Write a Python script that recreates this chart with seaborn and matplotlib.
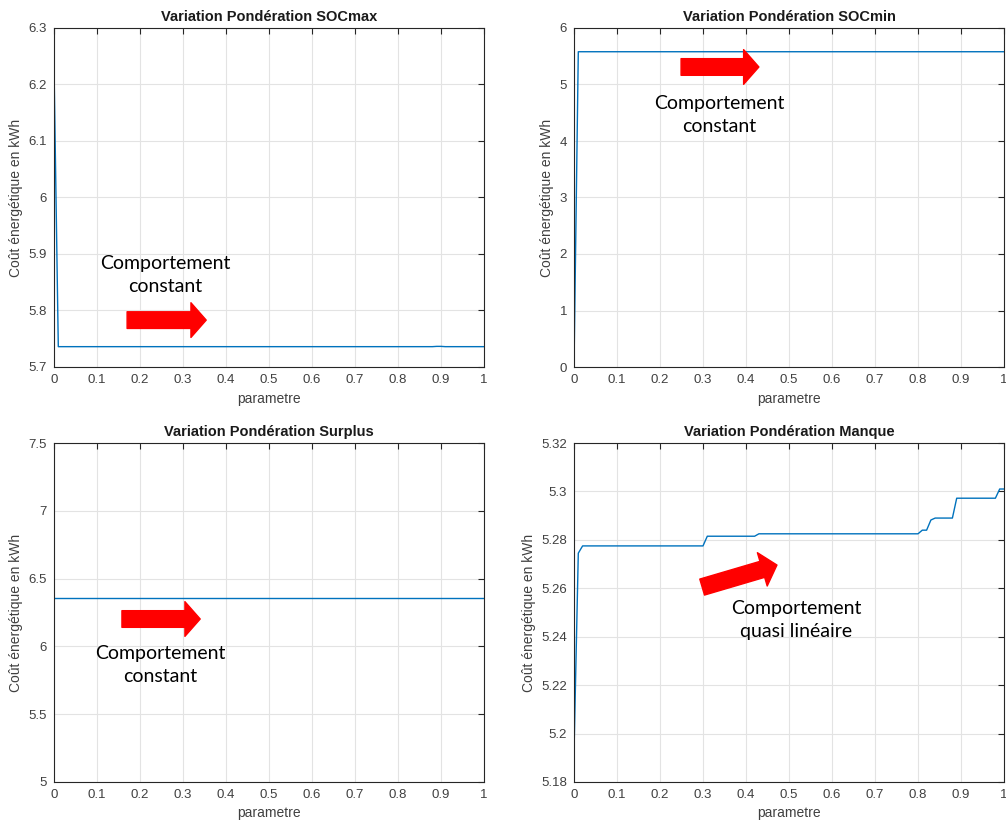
# =========================================
# VARIATION PONDERATION - 4 PANELS
# =========================================

import numpy as np
import matplotlib
matplotlib.use("Agg")
import matplotlib.pyplot as plt
from matplotlib.ticker import FuncFormatter
import seaborn as sns


# =========================================
# DATA
# =========================================

socmax_x = [0, 0.01, 0.88, 0.89, 0.90, 0.91, 1.0]
socmax_y = [6.233, 5.736, 5.736, 5.7365, 5.7365, 5.736, 5.736]

socmin_x = [0, 0.01, 1.0]
socmin_y = [0.0, 5.58, 5.58]

surplus_x = [0, 1.0]
surplus_y = [6.355, 6.355]

manque_x = [0, 0.01, 0.02, 0.30, 0.31, 0.42, 0.43, 0.80, 0.81, 0.82,
            0.83, 0.84, 0.88, 0.89, 0.98, 0.99, 1.0]
manque_y = [5.192, 5.2745, 5.2775, 5.2775, 5.2815, 5.2815, 5.2825, 5.2825,
            5.2840, 5.2840, 5.2882, 5.2890, 5.2890, 5.2972, 5.2972, 5.3010, 5.3010]

titles = [
    "Variation Pondération SOCmax",
    "Variation Pondération SOCmin",
    "Variation Pondération Surplus",
    "Variation Pondération Manque",
]

y_limits = [(5.7, 6.3), (0, 6), (5, 7.5), (5.18, 5.32)]
y_ticks = [
    [5.7, 5.8, 5.9, 6.0, 6.1, 6.2, 6.3],
    [0, 1, 2, 3, 4, 5, 6],
    [5, 5.5, 6, 6.5, 7, 7.5],
    [5.18, 5.2, 5.22, 5.24, 5.26, 5.28, 5.3, 5.32],
]
x_ticks = [0, 0.1, 0.2, 0.3, 0.4, 0.5, 0.6, 0.7, 0.8, 0.9, 1.0]

notes = [
    "Comportement\nconstant",
    "Comportement\nconstant",
    "Comportement\nconstant",
    "Comportement\nquasi linéaire",
]
note_xy = [(0.258, 5.863), (0.337, 4.46), (0.247, 5.863), (0.516, 5.247)]

# arrows: (tail, tip)
arrows = [
    ((0.170, 5.783), (0.354, 5.783)),
    ((0.249, 5.31), (0.430, 5.31)),
    ((0.158, 6.202), (0.340, 6.202)),
    ((0.298, 5.2605), (0.472, 5.2696)),
]


# =========================================
# STYLE
# =========================================

sns.set_style("white")
plt.rcParams["font.family"] = ["Liberation Sans", "DejaVu Sans"]

line_color = "#0072BD"
text_gray = "#404040"


# =========================================
# FIGURE
# =========================================

fig = plt.figure(figsize=(10.06, 8.26), dpi=100)

W = 430 / 1006
H = 339 / 826
positions = [
    [54 / 1006, (826 - 367) / 826, W, H],
    [574 / 1006, (826 - 367) / 826, W, H],
    [54 / 1006, (826 - 782) / 826, W, H],
    [574 / 1006, (826 - 782) / 826, W, H],
]

series = [
    (socmax_x, socmax_y),
    (socmin_x, socmin_y),
    (surplus_x, surplus_y),
    (manque_x, manque_y),
]

for i in range(4):
    ax = fig.add_axes(positions[i])
    xs, ys = series[i]

    sns.lineplot(
        x=xs,
        y=ys,
        ax=ax,
        color=line_color,
        linewidth=1.0,
        sort=False,
        estimator=None
    )

    ax.set_xlim(0, 1)
    ax.set_ylim(*y_limits[i])
    ax.set_xticks(x_ticks)
    ax.set_yticks(y_ticks[i])

    fmt = FuncFormatter(lambda v, p: "{:g}".format(round(v, 4)))
    ax.xaxis.set_major_formatter(fmt)
    ax.yaxis.set_major_formatter(fmt)

    ax.grid(True, color="#e3e3e3", linewidth=0.8)
    ax.set_axisbelow(True)

    for s in ax.spines.values():
        s.set_visible(True)
        s.set_color("#262626")
        s.set_linewidth(0.8)

    ax.tick_params(
        direction="in",
        length=4,
        width=0.8,
        top=True,
        right=True,
        labelsize=9.5,
        labelcolor=text_gray,
        color="#262626",
        pad=5
    )

    ax.set_title(titles[i], fontsize=10.5, fontweight="bold", pad=5, color="#1a1a1a")
    ax.set_xlabel("parametre", fontsize=10, color=text_gray, labelpad=4)
    ax.set_ylabel("Coût énergétique en kWh", fontsize=10, color=text_gray, labelpad=4)

    # annotation text
    ax.text(
        note_xy[i][0],
        note_xy[i][1],
        notes[i],
        ha="center",
        va="center",
        fontsize=14,
        family=["Lato", "DejaVu Sans"],
        color="black",
        linespacing=1.4
    )

    # red block arrow
    tail, tip = arrows[i]
    ax.annotate(
        "",
        xy=tip,
        xytext=tail,
        arrowprops=dict(
            arrowstyle="simple,head_length=11,head_width=25,tail_width=12",
            mutation_scale=1,
            color="#ff0000",
            shrinkA=0,
            shrinkB=0
        )
    )

plt.savefig("out.png", dpi=100)
plt.close()
